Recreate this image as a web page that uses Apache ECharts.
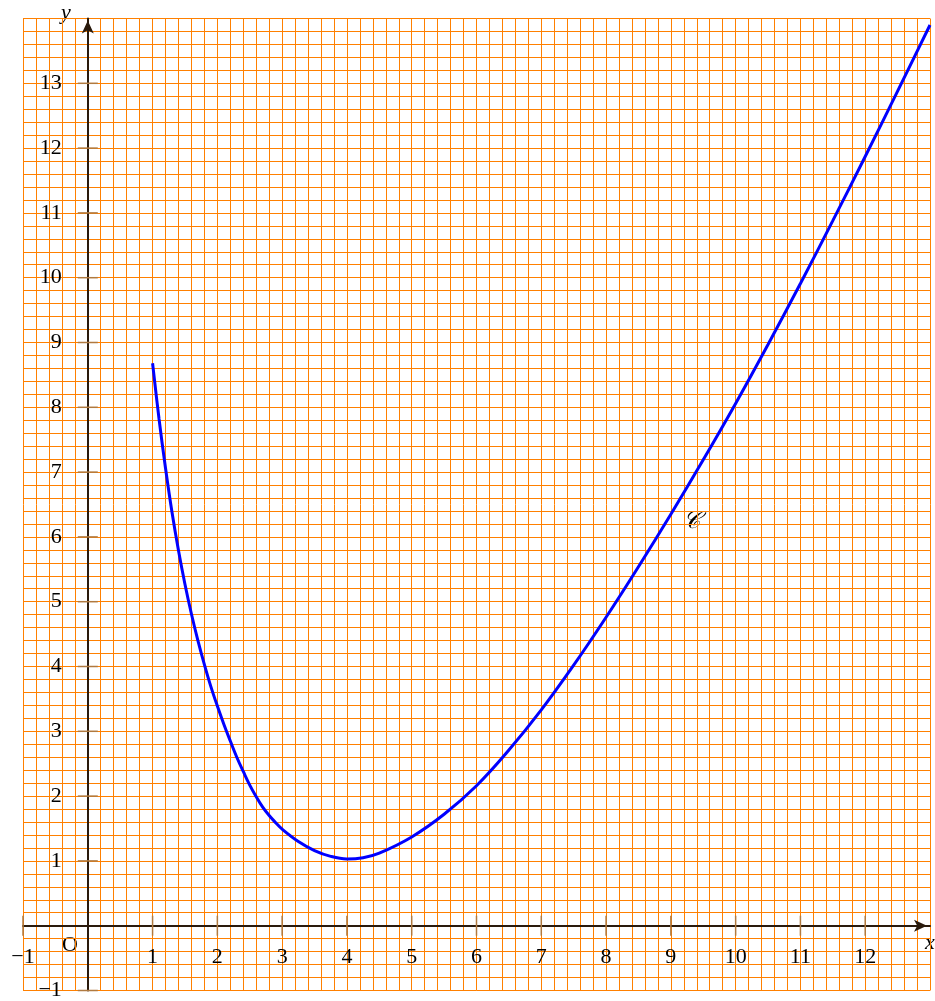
<!DOCTYPE html>
<html>
<head>
<meta charset="utf-8">
<script src="https://cdn.jsdelivr.net/npm/echarts@6/dist/echarts.min.js"></script>
<style>
  html, body { margin: 0; padding: 0; background: #fff; }
  #chart { width: 935px; height: 1001px; }
</style>
</head>
<body>
<div id="chart"></div>
<script>
// curve C
const curveX = [1.0, 1.1, 1.2, 1.3, 1.4, 1.5, 1.6, 1.7, 1.8, 1.9, 2.0, 2.1, 2.2, 2.3, 2.4, 2.5,
  2.6, 2.7, 2.8, 2.9, 3.0, 3.25, 3.5, 3.75, 4.0, 4.25, 4.5, 5.0, 5.5, 6.0, 6.5, 7.0, 7.5, 8.0, 8.5, 9.0,
  9.5, 10.0, 10.5, 11.0, 11.5, 12.0, 12.5, 13.0];
const curveY = [8.68, 7.82, 7.06, 6.38, 5.79, 5.27, 4.81, 4.4, 4.03, 3.69, 3.39, 3.11, 2.85, 2.6, 2.38, 2.17,
  1.99, 1.83, 1.7, 1.59, 1.49, 1.3, 1.16, 1.07, 1.03, 1.05, 1.12, 1.37, 1.72, 2.16, 2.71, 3.33, 4.02, 4.76, 5.54, 6.35,
  7.19, 8.06, 8.97, 9.91, 10.88, 11.87, 12.88, 13.9];

// integer tick positions on each axis
const xTicks = [-1, 1, 2, 3, 4, 5, 6, 7, 8, 9, 10, 11, 12];
const yTicks = [-1, 1, 2, 3, 4, 5, 6, 7, 8, 9, 10, 11, 12, 13];

const X_MIN = -1, X_MAX = 13;
const Y_MIN = -1, Y_MAX = 14;

const SERIF = '"Liberation Serif", "DejaVu Serif", serif';
const AXIS_COLOR = '#2a1a0c';
const TICK_COLOR = '#b07a40';
const GRID_COLOR = '#ff8000';

function numLabel(v) {
  return v < 0 ? '\u2212' + (-v) : String(v);
}

const chart = echarts.init(document.getElementById('chart'));

const labelStyle = { fontFamily: SERIF, fontSize: 22, color: '#000' };

chart.setOption({
  animation: false,
  backgroundColor: '#fff',
  grid: { left: 23, top: 18.5, width: 907, height: 972, outerBoundsMode: 'none', containLabel: false },
  xAxis: {
    type: 'value', min: X_MIN, max: X_MAX, interval: 0.2,
    axisLine: {
      show: true, onZero: true,
      symbol: ['none', 'arrow'], symbolSize: [9, 13], symbolOffset: [0, -3],
      lineStyle: { color: AXIS_COLOR, width: 2 }
    },
    axisTick: { show: false },
    axisLabel: { show: false },
    splitLine: { show: true, lineStyle: { color: GRID_COLOR, width: 1 } }
  },
  yAxis: {
    type: 'value', min: Y_MIN, max: Y_MAX, interval: 0.2, position: 'left',
    axisLine: {
      show: true, onZero: true,
      symbol: ['none', 'arrow'], symbolSize: [9, 13], symbolOffset: [0, -2],
      lineStyle: { color: AXIS_COLOR, width: 2 }
    },
    axisTick: { show: false },
    axisLabel: { show: false },
    splitLine: { show: true, lineStyle: { color: GRID_COLOR, width: 1 } }
  },
  series: [
    {
      // x ticks crossing the axis, with their labels
      type: 'scatter',
      symbol: 'rect',
      symbolSize: [1.5, 20],
      silent: true,
      z: 3,
      itemStyle: { color: TICK_COLOR, opacity: 1 },
      label: {
        show: true, position: 'bottom', distance: 11,
        formatter: p => numLabel(p.value[0]),
        ...labelStyle
      },
      data: xTicks.map(v => [v, 0])
    },
    {
      // y ticks crossing the axis, with their labels
      type: 'scatter',
      symbol: 'rect',
      symbolSize: [20, 1.5],
      silent: true,
      z: 3,
      itemStyle: { color: TICK_COLOR, opacity: 1 },
      label: {
        show: true, position: 'left', distance: 16,
        formatter: p => numLabel(p.value[1]),
        ...labelStyle
      },
      data: yTicks.map(v => [0, v])
    },
    {
      type: 'line',
      smooth: 0.4,
      symbol: 'none',
      z: 5,
      lineStyle: { color: '#0000ff', width: 3 },
      data: curveX.map((x, i) => [x, curveY[i]])
    }
  ],
  graphic: [
    { type: 'text', left: 62, top: 934, style: { text: 'O', font: '22px ' + SERIF, fill: '#000' } },
    { type: 'text', left: 925, top: 932, style: { text: 'x', font: 'italic 22px ' + SERIF, fill: '#000' } },
    { type: 'text', left: 61, top: 2, style: { text: 'y', font: 'italic 22px ' + SERIF, fill: '#000' } },
    { type: 'text', left: 683, top: 510, style: { text: '\ud835\udc9e', font: 'italic 24px ' + SERIF, fill: '#000' } }
  ]
});
</script>
</body>
</html>
